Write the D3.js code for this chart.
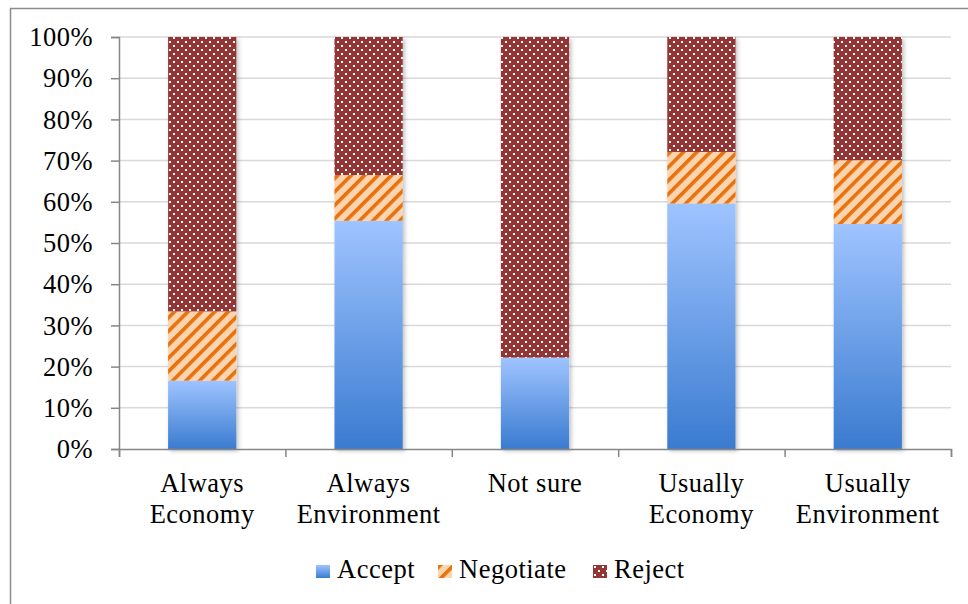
<!DOCTYPE html>
<html><head><meta charset="utf-8">
<script src="https://cdn.jsdelivr.net/npm/d3@7"></script>
<style>body{margin:0;background:#fff;} svg{display:block;} text{letter-spacing:0.5px;}</style>
</head><body>
<script>
const categories = [["Always","Economy"],["Always","Environment"],["Not sure"],["Usually","Economy"],["Usually","Environment"]];
const seriesNames = ["Accept","Negotiate","Reject"];
const accept = [16.6, 55.4, 22.2, 59.6, 54.6];
const negotiate = [16.8, 11.1, 0, 12.5, 15.5];
const reject = [66.6, 33.5, 77.8, 27.9, 29.9];
const yTicks = [0,10,20,30,40,50,60,70,80,90,100];

(function(){
const W = 968, H = 604;
const svg = d3.select("body").append("svg").attr("width", W).attr("height", H);
const defs = svg.append("defs");
const font = "'Liberation Serif', 'DejaVu Serif', serif";
const fs = 26.5;

const grad = defs.append("linearGradient").attr("id","gAccept").attr("x1",0).attr("y1",0).attr("x2",0).attr("y2",1);
grad.append("stop").attr("offset","0%").attr("stop-color","#9fc4ff");
grad.append("stop").attr("offset","100%").attr("stop-color","#3a7bd0");

const pN = defs.append("pattern").attr("id","pNeg").attr("patternUnits","userSpaceOnUse")
  .attr("width",9.5).attr("height",9.5).attr("patternTransform","rotate(45)");
pN.append("rect").attr("width",9.5).attr("height",9.5).attr("fill","#fcd5b0");
pN.append("rect").attr("x",0).attr("y",0).attr("width",3.6).attr("height",9.5).attr("fill","#e8710b");

const pR = defs.append("pattern").attr("id","pRej").attr("patternUnits","userSpaceOnUse").attr("width",8).attr("height",8);
pR.append("rect").attr("width",8).attr("height",8).attr("fill","#943634");
pR.append("rect").attr("x",1).attr("y",1).attr("width",2).attr("height",2).attr("fill","#fff");
pR.append("rect").attr("x",5).attr("y",5).attr("width",2).attr("height",2).attr("fill","#fff");

const filt = defs.append("filter").attr("id","shadow").attr("x","-20%").attr("y","-20%").attr("width","140%").attr("height","140%");
filt.append("feDropShadow").attr("dx",2).attr("dy",2).attr("stdDeviation",2).attr("flood-color","#000").attr("flood-opacity",0.25);

svg.append("path").attr("d",`M10.5,${H} V8.5 H${W}`).attr("fill","none").attr("stroke","#8c8c8c").attr("stroke-width",1.5);

const pl = 119, pr = 951, pt = 37, pb = 449;
const x = d3.scaleBand().domain(d3.range(categories.length)).range([pl,pr]).paddingInner(0.59).paddingOuter(0.295);
const y = d3.scaleLinear().domain([0,100]).range([pb,pt]);

svg.append("g").selectAll("line").data(yTicks.filter(t=>t>0)).join("line")
  .attr("x1",pl).attr("x2",pr).attr("y1",d=>y(d)).attr("y2",d=>y(d))
  .attr("stroke","#d9d9d9").attr("stroke-width",1.5);

const rows = categories.map((c,i)=>({i, Accept:accept[i], Negotiate:negotiate[i], Reject:reject[i]}));
const stack = d3.stack().keys(seriesNames)(rows);
const fills = {Accept:"url(#gAccept)", Negotiate:"url(#pNeg)", Reject:"url(#pRej)"};

const bars = svg.append("g").attr("filter","url(#shadow)");
stack.forEach(s=>{
  bars.append("g").selectAll("rect").data(s.filter(d=>d[1]-d[0]>0)).join("rect")
    .attr("x",d=>x(d.data.i)).attr("width",x.bandwidth())
    .attr("y",d=>y(d[1])).attr("height",d=>y(d[0])-y(d[1]))
    .attr("fill",fills[s.key]);
});

const yAxis = d3.axisLeft(y).tickValues(yTicks).tickFormat(d=>d+"%").tickSize(8).tickPadding(18);
const gy = svg.append("g").attr("transform",`translate(${pl},0)`).call(yAxis);
gy.select(".domain").attr("stroke","#868686").attr("stroke-width",1.5);
gy.selectAll(".tick line").attr("stroke","#868686").attr("stroke-width",1.5);
gy.selectAll(".tick text").attr("font-family",font).attr("font-size",fs).attr("fill","#000").attr("dy","0.33em");

const xb = d3.scaleLinear().domain([0,categories.length]).range([pl,pr]);
const gx = svg.append("g").attr("transform",`translate(0,${pb})`)
  .call(d3.axisBottom(xb).tickValues(d3.range(categories.length+1)).tickSize(8).tickFormat(""));
gx.select(".domain").attr("stroke","#868686").attr("stroke-width",1.5);
gx.selectAll(".tick line").attr("stroke","#868686").attr("stroke-width",1.5);

const lab = svg.append("g").selectAll("text").data(categories).join("text")
  .attr("x",(d,i)=>x(i)+x.bandwidth()/2).attr("y",492)
  .attr("text-anchor","middle").attr("font-family",font).attr("font-size",fs).attr("fill","#000");
lab.each(function(d){
  const t = d3.select(this);
  d.forEach((line,k)=>t.append("tspan").attr("x",t.attr("x")).attr("dy",k===0?0:31).text(line));
});

const legendX = [316, 438, 593];
const lg = svg.append("g").selectAll("g").data(seriesNames).join("g")
  .attr("transform",(d,i)=>`translate(${legendX[i]},565)`);
lg.append("rect").attr("width",14).attr("height",13).attr("fill",d=>fills[d]);
lg.append("text").attr("x",21).attr("y",13).attr("font-family",font).attr("font-size",fs).attr("fill","#000").text(d=>d);
})();
</script>
</body></html>
